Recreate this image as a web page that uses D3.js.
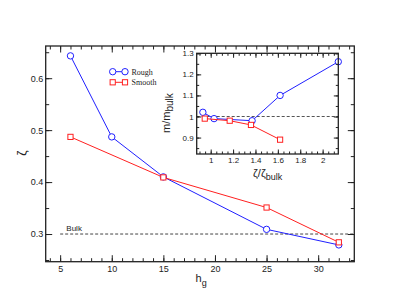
<!DOCTYPE html>
<html>
<head>
<meta charset="utf-8">
<script src="https://cdn.jsdelivr.net/npm/d3@7"></script>
<style>
  body { margin: 0; background: #fff; }
  text { font-family: "Liberation Sans", Arial, sans-serif; fill: #222; }
</style>
</head>
<body>
<script>
// main panel: zeta vs h_g
const hRough = [6, 10, 15, 25, 32];
const zetaRough = [0.643, 0.487, 0.410, 0.309, 0.279];
const hSmooth = [6, 15, 25, 32];
const zetaSmooth = [0.487, 0.409, 0.351, 0.284];
const zetaBulk = 0.3;
const mainXTicks = [5, 10, 15, 20, 25, 30];
const mainYTicks = [0.3, 0.4, 0.5, 0.6];

// inset: m/m_bulk vs zeta/zeta_bulk
const ratioRough = [0.93, 1.03, 1.37, 1.62, 2.14];
const massRough = [1.02, 0.99, 0.98, 1.10, 1.26];
const ratioSmooth = [0.947, 1.17, 1.36, 1.62];
const massSmooth = [0.99, 0.98, 0.96, 0.89];
const insetXTicks = [1, 1.2, 1.4, 1.6, 1.8, 2];
const insetYTicks = [0.9, 1, 1.1, 1.2, 1.3];

const legendNames = ['Rough', 'Smooth'];
const blue = '#2020ff', red = '#ff2020', ink = '#222';

const svg = d3.select('body').append('svg')
  .attr('width', 399).attr('height', 308);

// ---- main panel
const M = { left: 45.7, right: 354.3, top: 46, bottom: 261.7 };
const x = d3.scaleLinear().domain([3.6, 33.5]).range([M.left, M.right]);
const y = d3.scaleLinear().domain([0.2467, 0.662]).range([M.bottom, M.top]);

function frameAxes(g, xs, ys, box, o) {
  const minX = d3.range(Math.ceil(xs.domain()[0] / o.xMinor), xs.domain()[1] / o.xMinor + 1e-9)
    .map(i => +(i * o.xMinor).toFixed(4));
  const minY = d3.range(Math.ceil(ys.domain()[0] / o.yMinor), ys.domain()[1] / o.yMinor + 1e-9)
    .map(i => +(i * o.yMinor).toFixed(4));
  const add = (axis, tr) => {
    const a = g.append('g').attr('transform', tr).call(axis);
    a.select('.domain').remove();
    a.selectAll('line').attr('stroke', ink);
    a.selectAll('text').attr('fill', ink).style('font-size', o.font + 'px')
      .style('font-family', '"Liberation Sans", Arial, sans-serif');
    return a;
  };
  const fmt = d => d3.format('~g')(d);
  // minor ticks
  add(d3.axisBottom(xs).tickValues(minX).tickSize(-o.minor).tickFormat(''), `translate(0,${box.bottom})`);
  add(d3.axisTop(xs).tickValues(minX).tickSize(-o.minor).tickFormat(''), `translate(0,${box.top})`);
  add(d3.axisLeft(ys).tickValues(minY).tickSize(-o.minor).tickFormat(''), `translate(${box.left},0)`);
  add(d3.axisRight(ys).tickValues(minY).tickSize(-o.minor).tickFormat(''), `translate(${box.right},0)`);
  // major ticks
  add(d3.axisBottom(xs).tickValues(o.xTicks).tickSize(-o.major).tickPadding(o.padX).tickFormat(fmt), `translate(0,${box.bottom})`);
  add(d3.axisTop(xs).tickValues(o.xTicks).tickSize(-o.major).tickFormat(''), `translate(0,${box.top})`);
  add(d3.axisLeft(ys).tickValues(o.yTicks).tickSize(-o.major).tickPadding(o.padY).tickFormat(fmt), `translate(${box.left},0)`);
  add(d3.axisRight(ys).tickValues(o.yTicks).tickSize(-o.major).tickFormat(''), `translate(${box.right},0)`);
  g.append('rect')
    .attr('x', box.left).attr('y', box.top)
    .attr('width', box.right - box.left).attr('height', box.bottom - box.top)
    .attr('fill', 'none').attr('stroke', ink).attr('stroke-width', 1.3);
}

function series(g, xs, ys, xv, yv, color, shape) {
  const pts = xv.map((v, i) => [xs(v), ys(yv[i])]);
  g.append('path').attr('d', d3.line()(pts))
    .attr('fill', 'none').attr('stroke', color).attr('stroke-width', 1);
  if (shape === 'circle') {
    g.selectAll(null).data(pts).enter().append('circle')
      .attr('cx', d => d[0]).attr('cy', d => d[1]).attr('r', 3.2)
      .attr('fill', '#fff').attr('stroke', color).attr('stroke-width', 1);
  } else {
    g.selectAll(null).data(pts).enter().append('rect')
      .attr('x', d => d[0] - 2.6).attr('y', d => d[1] - 2.6)
      .attr('width', 5.2).attr('height', 5.2)
      .attr('fill', '#fff').attr('stroke', color).attr('stroke-width', 1);
  }
}

const main = svg.append('g');
main.append('rect').attr('x', M.left).attr('y', M.top)
  .attr('width', M.right - M.left).attr('height', M.bottom - M.top).attr('fill', '#fff');

// bulk reference line
main.append('path')
  .attr('d', d3.line()([[x(5), y(zetaBulk)], [x(x.domain()[1]), y(zetaBulk)]]))
  .attr('stroke', '#444').attr('stroke-width', 1).attr('stroke-dasharray', '3,2');
main.append('text').attr('x', x(5.6)).attr('y', y(zetaBulk) - 3)
  .style('font-size', '8px').text('Bulk');

series(main, x, y, hRough, zetaRough, blue, 'circle');
series(main, x, y, hSmooth, zetaSmooth, red, 'square');

frameAxes(main, x, y, M, {
  xMinor: 1, yMinor: 0.05, xTicks: mainXTicks, yTicks: mainYTicks,
  major: 6.5, minor: 3.5, padX: 3.5, padY: 2.5, font: 9
});

// axis titles
main.append('text').attr('transform', 'translate(25.5,153) rotate(-90)')
  .attr('text-anchor', 'middle').style('font-size', '12px').text('ζ');
const hx = main.append('text').attr('x', 195.5).attr('y', 282).style('font-size', '11px');
hx.append('tspan').text('h');
hx.append('tspan').attr('dy', 4).style('font-size', '9px').text('g');

// legend
const legend = main.append('g');
[[blue, 'circle', 71.7], [red, 'square', 82.3]].forEach(([c, s, ly], i) => {
  const lx = [112.7, 125];
  legend.append('line').attr('x1', lx[0]).attr('x2', lx[1]).attr('y1', ly).attr('y2', ly)
    .attr('stroke', c).attr('stroke-width', 1);
  lx.forEach(px => {
    if (s === 'circle') {
      legend.append('circle').attr('cx', px).attr('cy', ly).attr('r', 3.2)
        .attr('fill', '#fff').attr('stroke', c);
    } else {
      legend.append('rect').attr('x', px - 2.6).attr('y', ly - 2.6).attr('width', 5.2).attr('height', 5.2)
        .attr('fill', '#fff').attr('stroke', c);
    }
  });
  legend.append('text').attr('x', 131.5).attr('y', ly + 2.8)
    .style('font-family', '"Liberation Serif", "Times New Roman", serif')
    .style('font-size', '8px').text(legendNames[i]);
});

// ---- inset
const I = { left: 196.7, right: 338.3, top: 53.3, bottom: 154 };
const xi = d3.scaleLinear().domain([0.875, 2.14]).range([I.left, I.right]);
const yi = d3.scaleLinear().domain([0.822, 1.3]).range([I.bottom, I.top]);
const inset = svg.append('g');
inset.append('rect').attr('x', I.left).attr('y', I.top)
  .attr('width', I.right - I.left).attr('height', I.bottom - I.top).attr('fill', '#fff');
inset.append('path')
  .attr('d', d3.line()([[xi(xi.domain()[0]), yi(1)], [xi(xi.domain()[1]), yi(1)]]))
  .attr('stroke', '#555').attr('stroke-width', 1).attr('stroke-dasharray', '3,2');
series(inset, xi, yi, ratioRough, massRough, blue, 'circle');
series(inset, xi, yi, ratioSmooth, massSmooth, red, 'square');
frameAxes(inset, xi, yi, I, {
  xMinor: 0.05, yMinor: 0.05, xTicks: insetXTicks, yTicks: insetYTicks,
  major: 4.5, minor: 2.5, padX: 3.5, padY: 3, font: 8
});

const ix = inset.append('text').attr('x', 253).attr('y', 176.5).style('font-size', '11px');
ix.append('tspan').text('ζ/ζ');
ix.append('tspan').attr('dy', 3).style('font-size', '9px').text('bulk');

const iy = inset.append('text').attr('transform', 'translate(170,133) rotate(-90)')
  .style('font-size', '11px');
iy.append('tspan').text('m/m');
iy.append('tspan').attr('dy', 3).style('font-size', '10px').text('bulk');
</script>
</body>
</html>
